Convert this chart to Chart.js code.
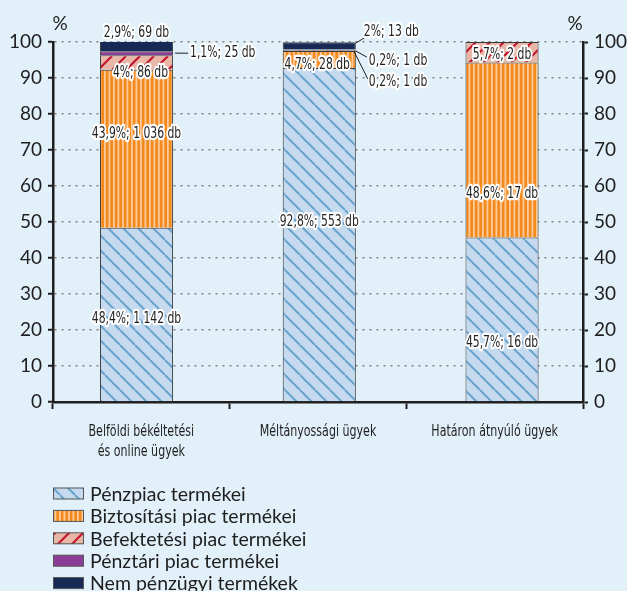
<!DOCTYPE html>
<html><head><meta charset="utf-8">
<script src="https://cdn.jsdelivr.net/npm/chart.js@4.4.1/dist/chart.umd.min.js"></script>
<style>html,body{margin:0;padding:0;background:#e2f0f9;}#wrap{width:627px;height:591px;}</style>
</head><body><div id="wrap"><canvas id="c" width="627" height="591"></canvas></div>
<script>
// ---- data ----
const categories = [['Belföldi békéltetési', 'és online ügyek'], 'Méltányossági ügyek', 'Határon átnyúló ügyek'];
const seriesNames = ['Pénzpiac termékei', 'Biztosítási piac termékei', 'Befektetési piac termékei', 'Pénztári piac termékei', 'Nem pénzügyi termékek'];
const penzpiac = [48.4, 92.8, 45.7];
const biztositasi = [43.9, 4.7, 48.6];
const befektetesi = [4, 0.2, 5.7];
const penztari = [1.1, 0.2, 0];
const nemPenzugyi = [2.9, 2, 0];
const penzpiacDb = [1142, 553, 16];
const biztositasiDb = [1036, 28, 17];
const befektetesiDb = [86, 1, 2];
const penztariDb = [25, 1, 0];
const nemPenzugyiDb = [69, 13, 0];
const yTicks = [0, 10, 20, 30, 40, 50, 60, 70, 80, 90, 100];
const barSlots = [0, 1, 2];

// ---- styles ----
const BG = '#e2f0f9';
const INK = '#1e1e1e';
const COND = '"Liberation Sans Narrow", "DejaVu Sans Condensed", sans-serif';
const LATO = 'Lato, "Open Sans", sans-serif';

function makePattern(w, h, draw) {
  const c = document.createElement('canvas'); c.width = w; c.height = h;
  const x = c.getContext('2d'); draw(x, w, h);
  return x.createPattern(c, 'repeat');
}
const patBlue = makePattern(15, 15, (x, s) => {
  x.fillStyle = '#c5daee'; x.fillRect(0, 0, s, s);
  x.strokeStyle = '#68a3cf'; x.lineWidth = 2;
  for (const x0 of [-s, 0, s]) { x.beginPath(); x.moveTo(x0, 0); x.lineTo(x0 + s, s); x.stroke(); }
});
const patOrange = makePattern(9, 9, (x, w, h) => {
  x.fillStyle = '#f48a1c'; x.fillRect(0, 0, w, h);
  x.fillStyle = '#fcc99a'; x.fillRect(0.5, 0, 1.8, h); x.fillRect(5, 0, 1.8, h);
});
const patRed = makePattern(14, 14, (x, s) => {
  x.fillStyle = '#e8b7a8'; x.fillRect(0, 0, s, s);
  x.strokeStyle = '#c3172f'; x.lineWidth = 2.2;
  for (const x0 of [-s, 0, s]) { x.beginPath(); x.moveTo(x0, s); x.lineTo(x0 + s, 0); x.stroke(); }
});
const fills = [patBlue, patOrange, patRed, '#8a3c97', '#172a55'];
const seriesValues = [penzpiac, biztositasi, befektetesi, penztari, nemPenzugyi];
const seriesDb = [penzpiacDb, biztositasiDb, befektetesiDb, penztariDb, nemPenzugyiDb];

const datasets = seriesNames.map((name, k) => ({
  label: name,
  data: seriesValues[k].map((v, i) => ({ x: barSlots[i], y: v })),
  db: seriesDb[k],
  xAxisID: 'xb', yAxisID: 'y',
  backgroundColor: fills[k], borderColor: '#3a3a3a', borderWidth: 1,
  barPercentage: 0.4, categoryPercentage: 1
}));

// label placement (y in axis units, x offsets in pixels)
const labelSpecs = [
  { ds: 0, i: 0, y: 23.1 },
  { ds: 1, i: 0, y: 74.4 },
  { ds: 2, i: 0, y: 91.4, dx: 4 },
  { ds: 3, i: 0, y: 96.9, right: 17, lead: [2, 96.9, 15, 96.9] },
  { ds: 4, i: 0, y: 102.6 },
  { ds: 0, i: 1, y: 50 },
  { ds: 1, i: 1, y: 93.6, dx: -2 },
  { ds: 4, i: 1, y: 102.9, right: 8, lead: [0, 99.7, 10, 101.4] },
  { ds: 3, i: 1, y: 94.7, right: 13, lead: [0, 97.5, 11, 95.8] },
  { ds: 2, i: 1, y: 88.9, right: 13, lead: [-2, 97.5, 12, 89.7] },
  { ds: 0, i: 2, y: 16.4 },
  { ds: 1, i: 2, y: 57.8 },
  { ds: 2, i: 2, y: 96.4 }
];
function fmtPct(v) { return String(v).replace('.', ','); }
function fmtDb(n) { return String(n).replace(/\B(?=(\d{3})+(?!\d))/g, ' '); }
function condText(c, txt, x, y, align, sx, halo) {
  c.save(); c.translate(x, y); c.scale(sx, 1); c.textAlign = align;
  if (halo) { c.strokeStyle = '#ffffff'; c.lineWidth = 4.5; c.lineJoin = 'round'; c.strokeText(txt, 0, 0); }
  c.fillStyle = INK; c.fillText(txt, 0, 0);
  c.restore();
}

const bgPlugin = {
  id: 'bg',
  beforeDraw(chart) { const c = chart.ctx; c.save(); c.fillStyle = BG; c.fillRect(0, 0, chart.width, chart.height); c.restore(); }
};
const labelPlugin = {
  id: 'labels',
  afterDatasetsDraw(chart) {
    const c = chart.ctx, ys = chart.scales.y;
    c.save();
    c.font = '16px ' + COND;
    c.textBaseline = 'middle';
    for (const s of labelSpecs) {
      const ds = chart.data.datasets[s.ds];
      const bar = chart.getDatasetMeta(s.ds).data[s.i];
      const txt = fmtPct(ds.data[s.i].y) + '%; ' + fmtDb(ds.db[s.i]) + ' db';
      const right = bar.x + bar.width / 2;
      let x, align;
      if (s.right !== undefined) { x = right + s.right; align = 'left'; }
      else { x = bar.x + (s.dx || 0); align = 'center'; }
      const y = ys.getPixelForValue(s.y);
      if (s.lead) {
        c.strokeStyle = INK; c.lineWidth = 1;
        c.beginPath();
        c.moveTo(right + s.lead[0], ys.getPixelForValue(s.lead[1]));
        c.lineTo(right + s.lead[2], ys.getPixelForValue(s.lead[3]));
        c.stroke();
      }
      condText(c, txt, x, y, align, 0.75, true);
    }
    c.restore();
  }
};
const textPlugin = {
  id: 'texts',
  afterDraw(chart) {
    const c = chart.ctx;
    c.save();
    const xs = chart.scales.x;
    c.font = '15px ' + COND; c.textBaseline = 'middle';
    chart.data.labels.forEach((lab, i) => {
      const lines = Array.isArray(lab) ? lab : [lab];
      const px = xs.getPixelForTick(i);
      lines.forEach((ln, j) => condText(c, ln, px, xs.top + 30 + j * 20, 'center', 0.82, false));
    });
    c.font = '19px ' + LATO; c.fillStyle = INK; c.textAlign = 'center';
    c.fillText('%', 60, 24);
    c.fillText('%', 575, 24);
    c.font = '19.5px ' + LATO; c.textAlign = 'left';
    chart.data.datasets.forEach((ds, k) => {
      const cy = 493.5 + k * 22.4;
      c.fillStyle = ds.backgroundColor;
      c.fillRect(53, cy - 5.5, 31, 11);
      c.strokeStyle = '#555'; c.lineWidth = 1;
      c.strokeRect(53.5, cy - 5.5, 30, 11);
      c.fillStyle = INK;
      c.fillText(ds.label, 90, cy + 1);
    });
    c.restore();
  }
};

const yAxisCommon = {
  min: 0, max: 100,
  afterBuildTicks: (axis) => { axis.ticks = yTicks.map(v => ({ value: v })); },
  ticks: { font: { family: LATO, size: 19 }, color: INK, padding: 6 },
};

new Chart(document.getElementById('c'), {
  type: 'bar',
  data: { labels: categories, datasets },
  options: {
    responsive: false, animation: false, devicePixelRatio: 1,
    layout: { padding: { top: 42, bottom: 129, left: 0, right: 0 } },
    plugins: { legend: { display: false }, tooltip: { enabled: false } },
    scales: {
      x: {
        type: 'category', offset: true,
        grid: { offset: true, drawOnChartArea: false, drawTicks: true, tickLength: 7, tickColor: INK, tickWidth: 2 },
        border: { color: INK, width: 2.5 },
        ticks: { display: false },
        afterFit: (s) => { s.height = 60; }
      },
      xb: {
        type: 'linear', display: false, stacked: true, offset: false,
        grid: { offset: false },
        min: -0.457, max: 2.443,
        afterBuildTicks: (axis) => { axis.ticks = barSlots.map(v => ({ value: v })); }
      },
      y: Object.assign({}, yAxisCommon, {
        stacked: true, position: 'left',
        grid: { color: '#808080', lineWidth: 1.5, tickColor: INK, tickWidth: 2, tickLength: 5, tickBorderDash: [] },
        border: { color: INK, width: 2.5, dash: [2, 5] },
        afterFit: (s) => { s.width = 53; }
      }),
      y2: Object.assign({}, yAxisCommon, {
        position: 'right',
        grid: { drawOnChartArea: false, tickColor: INK, tickWidth: 2, tickLength: 5 },
        border: { color: INK, width: 2.5 },
        afterFit: (s) => { s.width = 44; }
      })
    }
  },
  plugins: [bgPlugin, labelPlugin, textPlugin]
});
</script></body></html>
